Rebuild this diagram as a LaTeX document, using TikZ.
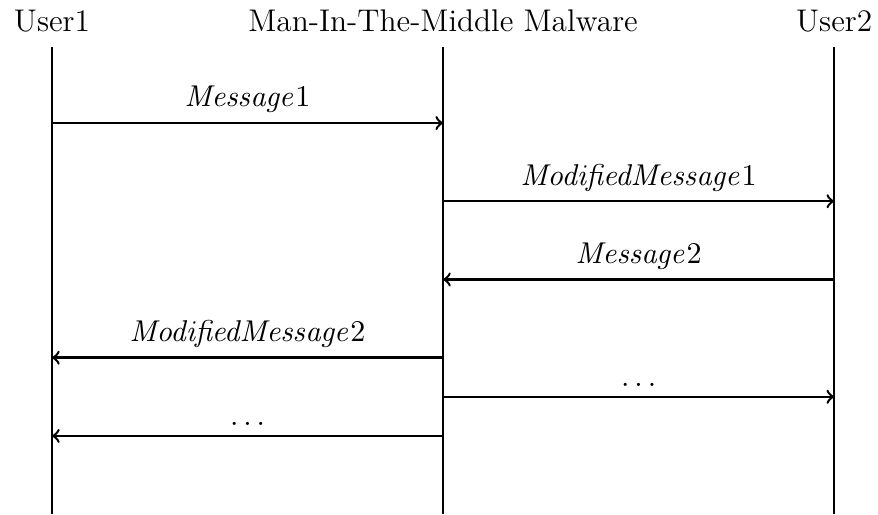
\documentclass[tikz,border=0pt]{standalone}
\begin{document}
\begin{tikzpicture}[>=to, line width=0.9pt, font=\fontsize{11.4}{13}\selectfont]

    \tikzset{
      actor/.style={
        anchor=south,
        inner sep=0pt,
        inner ysep=5pt,
      },
      msg/.style={
        ->,
      },
    }
    \useasboundingbox (-0.665,-5) rectangle (10.56,1.573);
	\node[actor] (user1) at (0,0.972) {User1};
	\node[actor] (mitm) at (5,0.972) {Man-In-The-Middle Malware};
	\node[actor] (user2) at (10,0.972) {User2};
	\coordinate (user1end) at (0,-5);
	\coordinate (mitmend) at (5,-5);
	\coordinate (user2end) at (10,-5);
	\draw (user1.south)--(user1end);
	\draw (mitm.south)--(mitmend);
	\draw (user2.south)--(user2end);

	\coordinate (m1from) at (0,0);  \coordinate (m1to) at (5,0);
	\coordinate (m2from) at (5,-1); \coordinate (m2to) at (10,-1);
	\coordinate (m3from) at (10,-2); \coordinate (m3to) at (5,-2);
	\coordinate (m4from) at (5,-3); \coordinate (m4to) at (0,-3);
	\coordinate (m5from) at (5,-3.5); \coordinate (m5to) at (10,-3.5);
	\coordinate (m6from) at (5,-4); \coordinate (m6to) at (0,-4);
	\draw[msg] (m1from)-- node[above] (lbl1) {$\mathit{Message}1$} (m1to);
	\draw[msg] (m2from)-- node[above] (lbl2) {$\mathit{ModifiedMessage}1$} (m2to);
	\draw[msg] (m3from)-- node[above] (lbl3) {$\mathit{Message}2$} (m3to);
	\draw[msg] (m4from)-- node[above] (lbl4) {$\mathit{ModifiedMessage}2$} (m4to);
	\draw[msg] (m5from)-- node[above] (lbl5) {$\dots$} (m5to);
	\draw[msg] (m6from)-- node[above] (lbl6) {$\dots$} (m6to);

\end{tikzpicture}
\end{document}
